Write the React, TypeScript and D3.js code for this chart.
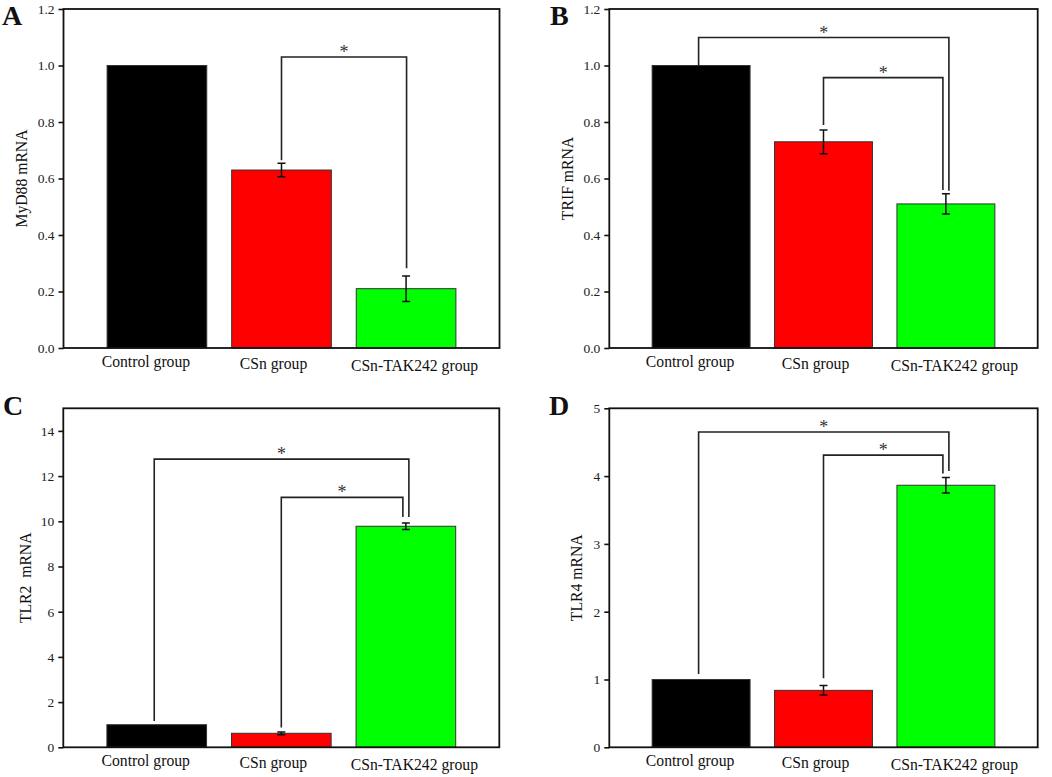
import React, { useEffect, useRef } from "react";
import * as d3 from "d3";

// groups shared by all four panels
const groups = ["Control group", "CSn group", "CSn-TAK242 group"];
const barColors = ["#000000", "#ff0000", "#00ff00"];

// relative mRNA expression (mean and error bar half-length)
const myd88Means = [1.0, 0.63, 0.21];
const myd88Errors = [0, 0.024, 0.045];
const trifMeans = [1.0, 0.73, 0.51];
const trifErrors = [0, 0.042, 0.036];
const tlr2Means = [1.0, 0.62, 9.78];
const tlr2Errors = [0, 0.06, 0.14];
const tlr4Means = [1.0, 0.84, 3.865];
const tlr4Errors = [0, 0.07, 0.115];

// y ticks
const ticksSmall = [0, 0.2, 0.4, 0.6, 0.8, 1.0, 1.2];
const ticksTlr2 = [0, 2, 4, 6, 8, 10, 12, 14];
const ticksTlr4 = [0, 1, 2, 3, 4, 5];

// significance brackets: group indices, bracket height, leg ends (data units)
type Bracket = { from: number; to: number; top: number; leftEnd: number; rightEnd: number };

const myd88Brackets: Bracket[] = [{ from: 1, to: 2, top: 1.03, leftEnd: 0.665, rightEnd: 0.282 }];
const trifBrackets: Bracket[] = [
  { from: 0, to: 2, top: 1.099, leftEnd: 1.0, rightEnd: 0.557 },
  { from: 1, to: 2, top: 0.957, leftEnd: 0.789, rightEnd: 0.559 },
];
const tlr2Brackets: Bracket[] = [
  { from: 0, to: 2, top: 12.75, leftEnd: 1.16, rightEnd: 10.19 },
  { from: 1, to: 2, top: 11.06, leftEnd: 0.88, rightEnd: 10.19 },
];
const tlr4Brackets: Bracket[] = [
  { from: 0, to: 2, top: 4.65, leftEnd: 1.08, rightEnd: 4.075 },
  { from: 1, to: 2, top: 4.31, leftEnd: 1.02, rightEnd: 4.04 },
];

type Box = { left: number; right: number; top: number; bottom: number };

type Panel = {
  letter: string;
  title: string;
  means: number[];
  errors: number[];
  brackets: Bracket[];
  yMax: number;
  yTicks: number[];
  format: (d: number) => string;
  box: Box;
  titleX: number;
  letterX: number;
  letterY: number;
};

const FONT = "'Liberation Serif', 'Times New Roman', serif";
const fmt1 = d3.format(".1f");
const fmt0 = d3.format("d");

// the axis labels in the figure sit a little off the bar centres
const labelDx = [-11, -8, 8.5];
const labelDy = [0, 2, 4];

const panels: Panel[] = [
  {
    letter: "A",
    title: "MyD88 mRNA",
    means: myd88Means,
    errors: myd88Errors,
    brackets: myd88Brackets,
    yMax: 1.2,
    yTicks: ticksSmall,
    format: fmt1,
    box: { left: 63.5, right: 499.5, top: 9, bottom: 348 },
    titleX: 21,
    letterX: 2,
    letterY: 25,
  },
  {
    letter: "B",
    title: "TRIF mRNA",
    means: trifMeans,
    errors: trifErrors,
    brackets: trifBrackets,
    yMax: 1.2,
    yTicks: ticksSmall,
    format: fmt1,
    box: { left: 609.3, right: 1037.7, top: 9, bottom: 348 },
    titleX: 567.5,
    letterX: 550,
    letterY: 25,
  },
  {
    letter: "C",
    title: "TLR2  mRNA",
    means: tlr2Means,
    errors: tlr2Errors,
    brackets: tlr2Brackets,
    yMax: 15,
    yTicks: ticksTlr2,
    format: fmt0,
    box: { left: 63.3, right: 499.3, top: 408.3, bottom: 747.3 },
    titleX: 25,
    letterX: 3,
    letterY: 415,
  },
  {
    letter: "D",
    title: "TLR4 mRNA",
    means: tlr4Means,
    errors: tlr4Errors,
    brackets: tlr4Brackets,
    yMax: 5,
    yTicks: ticksTlr4,
    format: fmt0,
    box: { left: 609.3, right: 1037.7, top: 408.3, bottom: 747.3 },
    titleX: 576.5,
    letterX: 549,
    letterY: 415,
  },
];

function drawPanel(root: d3.Selection<SVGSVGElement, unknown, null, undefined>, p: Panel) {
  const { left, right, top, bottom } = p.box;
  const g = root.append("g");

  const x = d3.scaleBand<string>().domain(groups).range([left, right]).paddingInner(0.2).paddingOuter(0.35);
  const y = d3.scaleLinear().domain([0, p.yMax]).range([bottom, top]);
  const cx = (i: number) => (x(groups[i]) as number) + x.bandwidth() / 2;

  // bars
  g.selectAll("rect.bar")
    .data(p.means)
    .enter()
    .append("rect")
    .attr("class", "bar")
    .attr("x", (_, i) => x(groups[i]) as number)
    .attr("y", (d) => y(d))
    .attr("width", x.bandwidth())
    .attr("height", (d) => y(0) - y(d))
    .attr("fill", (_, i) => barColors[i])
    .attr("stroke", "#333")
    .attr("stroke-width", 1);

  // error bars
  const cap = 4;
  p.means.forEach((m, i) => {
    const e = p.errors[i];
    if (!e) return;
    const xc = cx(i);
    g.append("path")
      .attr(
        "d",
        `M${xc},${y(m - e)}V${y(m + e)}M${xc - cap},${y(m + e)}H${xc + cap}M${xc - cap},${y(m - e)}H${xc + cap}`
      )
      .attr("fill", "none")
      .attr("stroke", "#111")
      .attr("stroke-width", 1.5);
  });

  // frame
  g.append("rect")
    .attr("x", left)
    .attr("y", top)
    .attr("width", right - left)
    .attr("height", bottom - top)
    .attr("fill", "none")
    .attr("stroke", "#111")
    .attr("stroke-width", 1.8);

  // y axis
  const axis = g
    .append("g")
    .attr("transform", `translate(${left},0)`)
    .attr("font-family", FONT)
    .attr("font-size", 13.5)
    .call(d3.axisLeft(y).tickValues(p.yTicks).tickSize(5).tickPadding(4).tickFormat((d) => p.format(d as number)));
  axis.attr("font-family", FONT).attr("font-size", 13.5);
  axis.select(".domain").remove();
  axis.selectAll(".tick line").attr("stroke", "#111").attr("stroke-width", 1.6);
  axis.selectAll(".tick text").attr("fill", "#222");

  // group labels
  groups.forEach((name, i) => {
    g.append("text")
      .attr("x", cx(i) + labelDx[i])
      .attr("y", bottom + 18.5 + labelDy[i])
      .attr("text-anchor", "middle")
      .attr("fill", "#111")
      .style("font-family", FONT)
      .style("font-size", "15.7px")
      .style("white-space", "pre")
      .text(name);
  });

  // y title
  g.append("text")
    .attr("transform", `translate(${p.titleX},${(top + bottom) / 2}) rotate(-90)`)
    .attr("text-anchor", "middle")
    .attr("dy", "0.35em")
    .attr("fill", "#111")
    .style("font-family", FONT)
    .style("font-size", "15.7px")
    .style("white-space", "pre")
    .text(p.title);

  // significance brackets
  const twoLevels = p.brackets.length > 1;
  p.brackets.forEach((b, k) => {
    const outer = twoLevels && k === 0;
    const inner = twoLevels && k === 1;
    const xl = cx(b.from) + (outer ? -2.5 : 0);
    const xr = cx(b.to) + (outer ? 3 : inner ? -3 : 0.5);
    g.append("path")
      .attr("d", `M${xl},${y(b.leftEnd)}V${y(b.top)}H${xr}V${y(b.rightEnd)}`)
      .attr("fill", "none")
      .attr("stroke", "#222")
      .attr("stroke-width", 1.6);
    g.append("text")
      .attr("x", (xl + xr) / 2)
      .attr("y", y(b.top) + 1)
      .attr("text-anchor", "middle")
      .attr("fill", "#333")
      .style("font-family", FONT)
      .style("font-size", "18px")
      .text("*");
  });

  // panel letter
  g.append("text")
    .attr("x", p.letterX)
    .attr("y", p.letterY)
    .attr("fill", "#111")
    .style("font-family", FONT)
    .style("font-size", "28px")
    .style("font-weight", "bold")
    .text(p.letter);
}

export default function App() {
  const svgRef = useRef<SVGSVGElement>(null);

  useEffect(() => {
    if (!svgRef.current) return;
    const svg = d3.select(svgRef.current);
    svg.selectAll("*").remove();
    panels.forEach((p) => drawPanel(svg, p));
  }, []);

  return (
    <svg
      ref={svgRef}
      width={1052}
      height={777}
      style={{ position: "absolute", left: 0, top: 0, background: "#ffffff" }}
    />
  );
}
